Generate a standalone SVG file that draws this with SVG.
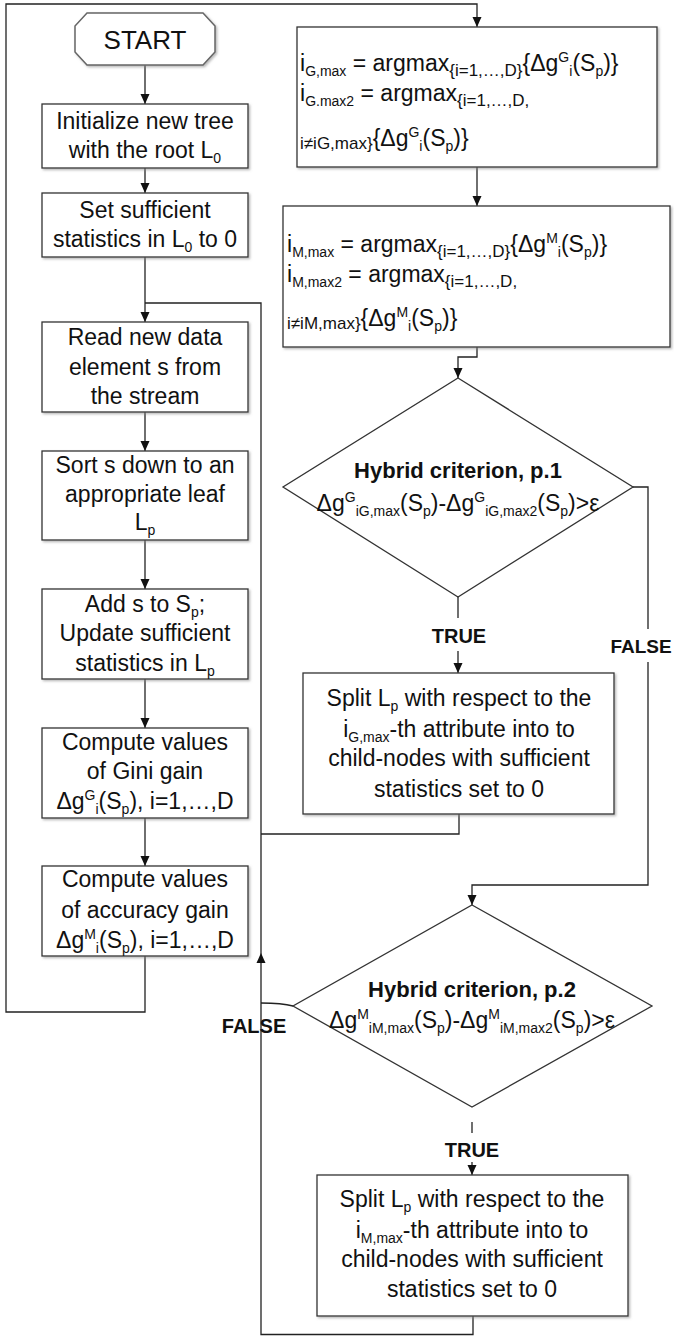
<svg xmlns="http://www.w3.org/2000/svg" width="674" height="1336" viewBox="0 0 674 1336">
<style>
.box{fill:#fff;stroke:#333;stroke-width:1.3;filter:url(#sh)}
.t{font-family:"Liberation Sans",Arial,sans-serif;font-size:23px;fill:#111}
.c{text-anchor:middle}
.b{font-weight:bold}
.s{font-size:14px}
.m{font-size:17px}
.ln{fill:none;stroke:#222;stroke-width:1.3}
.ar{marker-end:url(#ah)}
</style>
<defs>
<marker id="ah" markerUnits="userSpaceOnUse" markerWidth="10" markerHeight="10" refX="10" refY="5" orient="auto"><path d="M0,0.5 L10,5 L0,9.5 z" fill="#111"/></marker>
<filter id="sh" x="-5%" y="-5%" width="115%" height="115%"><feDropShadow dx="1.5" dy="1.5" stdDeviation="1" flood-color="#888" flood-opacity="0.6"/></filter>
</defs>
<rect width="674" height="1336" fill="#fff"/>
<g id="connectors">
<path class="ln ar" d="M145,65 V104"/>
<path class="ln ar" d="M145,168 V193"/>
<path class="ln ar" d="M145,257 V322"/>
<path class="ln ar" d="M145,412 V451"/>
<path class="ln ar" d="M145,540 V589"/>
<path class="ln ar" d="M145,679 V728"/>
<path class="ln ar" d="M145,818 V866"/>
<path class="ln ar" d="M145,956 V1012 H6 V4 H477 V27"/>
<path class="ln ar" d="M477,167 V206"/>
<path class="ln ar" d="M477,347 V357 H458 V378"/>
<path class="ln" d="M458,597 V618"/>
<path class="ln ar" d="M458,651 V673"/>
<path class="ln" d="M633,487 H648 V629"/>
<path class="ln ar" d="M648,662 V885 H472 V905"/>
<path class="ln" d="M459,814 V834 H261"/>
<path class="ln" d="M293,1006 Q282,1003 261,1003"/>
<path class="ln" d="M472,1122 V1133"/>
<path class="ln ar" d="M472,1162 V1175"/>
<path class="ln ar" d="M473,1316 V1334.5 H261 V953"/>
<path class="ln" d="M261,953 V303 H145"/>
</g>
<g id="start">
<path d="M87,13 H203 L215,26 V52 L203,65 H87 L75,52 V26 Z" fill="#fff" stroke="#666" stroke-width="1.5" filter="url(#sh)"/>
<text class="t c" x="145" y="49" style="font-size:26px">START</text>
</g>
<g id="init">
<rect class="box" x="42" y="104" width="206" height="64"/>
<text class="t c" x="145" y="129">Initialize new tree</text>
<text class="t c" x="145" y="158">with the root L<tspan class="s" dy="5">0</tspan></text>
</g>
<g id="setstats">
<rect class="box" x="42" y="193" width="206" height="64"/>
<text class="t c" x="145" y="218">Set sufficient</text>
<text class="t c" x="145" y="247">statistics in L<tspan class="s" dy="5">0</tspan><tspan dy="-5"> to 0</tspan></text>
</g>
<g id="read">
<rect class="box" x="42" y="322" width="206" height="90"/>
<text class="t c" x="145" y="345">Read new data</text>
<text class="t c" x="145" y="375">element s from</text>
<text class="t c" x="145" y="404">the stream</text>
</g>
<g id="sort">
<rect class="box" x="42" y="451" width="206" height="89"/>
<text class="t c" x="145" y="473">Sort s down to an</text>
<text class="t c" x="145" y="502">appropriate leaf</text>
<text class="t c" x="145" y="530">L<tspan class="s" dy="5">p</tspan></text>
</g>
<g id="add">
<rect class="box" x="42" y="589" width="206" height="90"/>
<text class="t c" x="145" y="612">Add s to S<tspan class="s" dy="5">p</tspan><tspan dy="-5">;</tspan></text>
<text class="t c" x="145" y="641">Update sufficient</text>
<text class="t c" x="145" y="671">statistics in L<tspan class="s" dy="5">p</tspan></text>
</g>
<g id="gini">
<rect class="box" x="42" y="728" width="206" height="90"/>
<text class="t c" x="145" y="750">Compute values</text>
<text class="t c" x="145" y="779">of Gini gain</text>
<text class="t c" x="145" y="809">Δg<tspan class="s" dy="-9">G</tspan><tspan class="s" dy="14">i</tspan><tspan dy="-5">(S</tspan><tspan class="s" dy="5">p</tspan><tspan dy="-5">), i=1,…,D</tspan></text>
</g>
<g id="accuracy">
<rect class="box" x="42" y="866" width="206" height="90"/>
<text class="t c" x="145" y="887">Compute values</text>
<text class="t c" x="145" y="918">of accuracy gain</text>
<text class="t c" x="145" y="948">Δg<tspan class="s" dy="-9">M</tspan><tspan class="s" dy="14">i</tspan><tspan dy="-5">(S</tspan><tspan class="s" dy="5">p</tspan><tspan dy="-5">), i=1,…,D</tspan></text>
</g>
<g id="gmax">
<rect class="box" x="297" y="27" width="360" height="140"/>
<text class="t" x="300" y="71">i<tspan class="s" dy="5">G,max</tspan><tspan dy="-5"> = argmax</tspan><tspan class="m" dy="5">{i=1,…,D}</tspan><tspan dy="-5">{Δg</tspan><tspan class="s" dy="-9">G</tspan><tspan class="s" dy="14">i</tspan><tspan dy="-5">(S</tspan><tspan class="s" dy="5">p</tspan><tspan dy="-5">)}</tspan></text>
<text class="t" x="300" y="101">i<tspan class="s" dy="5">G.max2</tspan><tspan dy="-5"> = argmax</tspan><tspan class="m" dy="5">{i=1,…,D,</tspan></text>
<text class="t" x="300" y="146"><tspan class="m" dy="3">i≠iG,max}</tspan><tspan dy="-3">{Δg</tspan><tspan class="s" dy="-9">G</tspan><tspan class="s" dy="14">i</tspan><tspan dy="-5">(S</tspan><tspan class="s" dy="5">p</tspan><tspan dy="-5">)}</tspan></text>
</g>
<g id="mmax">
<rect class="box" x="283" y="206" width="387" height="141"/>
<text class="t" x="287" y="252">i<tspan class="s" dy="5">M,max</tspan><tspan dy="-5"> = argmax</tspan><tspan class="m" dy="5">{i=1,…,D}</tspan><tspan dy="-5">{Δg</tspan><tspan class="s" dy="-9">M</tspan><tspan class="s" dy="14">i</tspan><tspan dy="-5">(S</tspan><tspan class="s" dy="5">p</tspan><tspan dy="-5">)}</tspan></text>
<text class="t" x="287" y="282">i<tspan class="s" dy="5">M,max2</tspan><tspan dy="-5"> = argmax</tspan><tspan class="m" dy="5">{i=1,…,D,</tspan></text>
<text class="t" x="287" y="326"><tspan class="m" dy="3">i≠iM,max}</tspan><tspan dy="-3">{Δg</tspan><tspan class="s" dy="-9">M</tspan><tspan class="s" dy="14">i</tspan><tspan dy="-5">(S</tspan><tspan class="s" dy="5">p</tspan><tspan dy="-5">)}</tspan></text>
</g>
<g id="hybrid1">
<path d="M458,378 L633,487 L458,597 L283,487 Z" fill="#fff" stroke="#333" stroke-width="1.3"/>
<text class="t c b" x="458" y="478" style="font-size:22px">Hybrid criterion, p.1</text>
<text class="t c" x="458" y="511">Δg<tspan class="s" dy="-9">G</tspan><tspan class="s" dy="14">iG,max</tspan><tspan dy="-5">(S</tspan><tspan class="s" dy="5">p</tspan><tspan dy="-5">)-Δg</tspan><tspan class="s" dy="-9">G</tspan><tspan class="s" dy="14">iG,max2</tspan><tspan dy="-5">(S</tspan><tspan class="s" dy="5">p</tspan><tspan dy="-5">)&gt;ε</tspan></text>
</g>
<g id="split1">
<rect class="box" x="303" y="673" width="311" height="141"/>
<text class="t c" x="459" y="706">Split L<tspan class="s" dy="5">p</tspan><tspan dy="-5"> with respect to the</tspan></text>
<text class="t c" x="459" y="737">i<tspan class="s" dy="5">G,max</tspan><tspan dy="-5">-th attribute into to</tspan></text>
<text class="t c" x="459" y="766">child-nodes with sufficient</text>
<text class="t c" x="459" y="797">statistics set to 0</text>
</g>
<g id="hybrid2">
<path d="M472,905 L652,1006 L472,1107 L293,1006 Z" fill="#fff" stroke="#333" stroke-width="1.3"/>
<text class="t c b" x="472" y="997" style="font-size:22px">Hybrid criterion, p.2</text>
<text class="t c" x="472" y="1028">Δg<tspan class="s" dy="-9">M</tspan><tspan class="s" dy="14">iM,max</tspan><tspan dy="-5">(S</tspan><tspan class="s" dy="5">p</tspan><tspan dy="-5">)-Δg</tspan><tspan class="s" dy="-9">M</tspan><tspan class="s" dy="14">iM,max2</tspan><tspan dy="-5">(S</tspan><tspan class="s" dy="5">p</tspan><tspan dy="-5">)&gt;ε</tspan></text>
</g>
<g id="split2">
<rect class="box" x="317" y="1175" width="311" height="141"/>
<text class="t c" x="472" y="1207">Split L<tspan class="s" dy="5">p</tspan><tspan dy="-5"> with respect to the</tspan></text>
<text class="t c" x="472" y="1238">i<tspan class="s" dy="5">M,max</tspan><tspan dy="-5">-th attribute into to</tspan></text>
<text class="t c" x="472" y="1267">child-nodes with sufficient</text>
<text class="t c" x="472" y="1297">statistics set to 0</text>
</g>
<g id="labels">
<text class="t c b" x="459" y="643" style="font-size:20px">TRUE</text>
<text class="t c b" x="641" y="653" style="font-size:19px">FALSE</text>
<text class="t c b" x="254" y="1033" style="font-size:20px">FALSE</text>
<text class="t c b" x="472" y="1157" style="font-size:20px">TRUE</text>
</g>
</svg>
